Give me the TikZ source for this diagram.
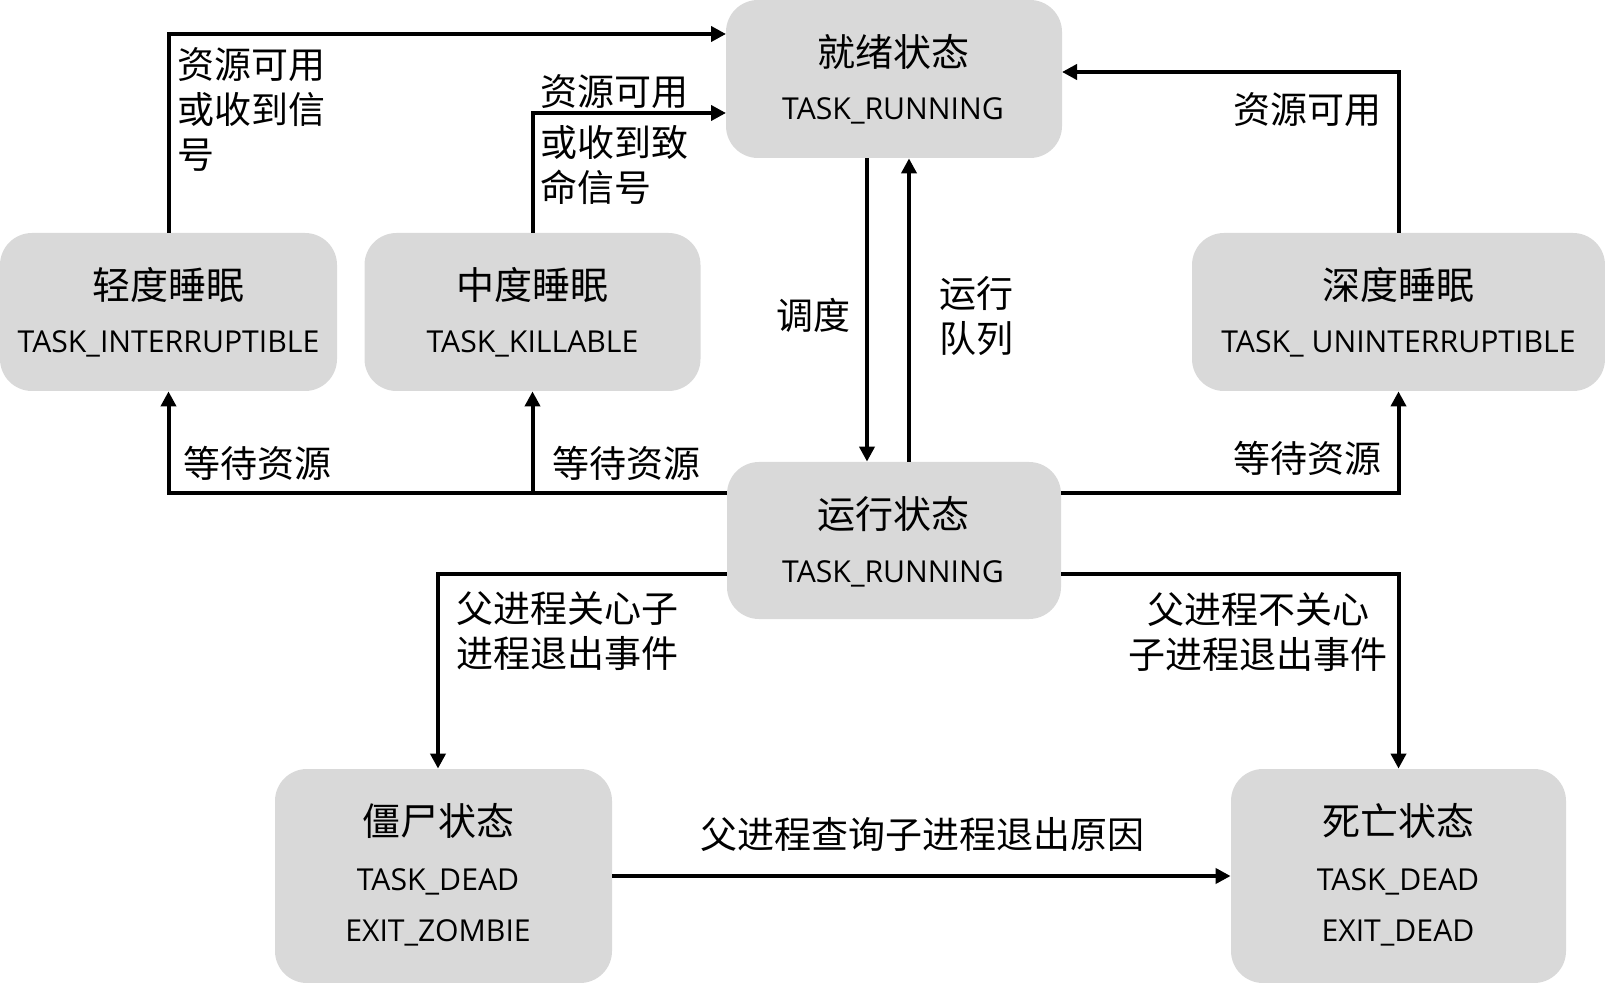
\documentclass[tikz,border=0pt]{standalone}
\usepackage{fontspec}
\setmainfont{Open Sans}
\newfontfamily\zh{Noto Sans CJK SC}
\usetikzlibrary{arrows.meta,calc}
\definecolor{boxgray}{HTML}{D9D9D9}
\tikzset{
  box/.style={fill=boxgray, rounded corners=16pt, inner sep=0pt},
  zhT/.style={font=\zh\fontsize{19}{22}\selectfont, inner sep=0pt},
  en/.style={font=\fontsize{15.1}{18}\selectfont, inner sep=0pt, anchor=base},
  lbl/.style={font=\zh\fontsize{18.5}{22.5}\selectfont, inner sep=0pt},
  arr/.style={line width=2pt, -{Triangle[length=7.5pt,width=7.5pt]}},
}
\begin{document}
\begin{tikzpicture}[x=0.5pt,y=-0.5pt]
\useasboundingbox (0,0) rectangle (1605,983);
% boxes
\node[box, minimum width=168pt, minimum height=79pt] (ready) at (894,79) {};
\node[box, minimum width=168.5pt, minimum height=79pt] (light) at (168.5,312) {};
\node[box, minimum width=168pt, minimum height=79pt] (mid) at (532.5,312) {};
\node[box, minimum width=206.5pt, minimum height=79pt] (deep) at (1398.5,312) {};
\node[box, minimum width=167pt, minimum height=78.5pt] (run) at (894,540.5) {};
\node[box, minimum width=168.5pt, minimum height=107pt] (zombie) at (443.5,876) {};
\node[box, minimum width=167.5pt, minimum height=107pt] (dead) at (1398.5,876) {};
% box texts
\node[zhT] (readyT) at (893,52) {就绪状态};
\node[en] (readyE) at (893,120) {TASK\_RUNNING};
\node[zhT] (lightT) at (168.5,285) {轻度睡眠};
\node[en] (lightE) at (168.5,353) {TASK\_INTERRUPTIBLE};
\node[zhT] (midT) at (532.5,285) {中度睡眠};
\node[en] (midE) at (532.5,353) {TASK\_KILLABLE};
\node[zhT] (deepT) at (1398.5,285) {深度睡眠};
\node[en] (deepE) at (1398.5,353) {TASK\_ UNINTERRUPTIBLE};
\node[zhT] (runT) at (893,514) {运行状态};
\node[en] (runE) at (893,582) {TASK\_RUNNING};
\node[zhT] (zombieT) at (438,821) {僵尸状态};
\node[en] (zombieE1) at (438,890.5) {TASK\_DEAD};
\node[en] (zombieE2) at (438,941) {EXIT\_ZOMBIE};
\node[zhT] (deadT) at (1398,821) {死亡状态};
\node[en] (deadE1) at (1398,890.5) {TASK\_DEAD};
\node[en] (deadE2) at (1398,941) {EXIT\_DEAD};
% helper coordinates
\coordinate (rA) at (726,34);
\coordinate (rB) at (726,113);
\coordinate (rC) at (1062,72);
\coordinate (xd) at (867,0);
\coordinate (xu) at (909,0);
\coordinate (yw) at (0,493);
\coordinate (yz) at (0,574);
\coordinate (xz) at (438,0);
% connectors
\draw[arr] (light.north) |- (rA);
\draw[arr] (mid.north) |- (rB);
\draw[arr] (deep.north) |- (rC);
\draw[arr] (ready.south -| xd) -- (run.north -| xd);
\draw[arr] (run.north -| xu) -- (ready.south -| xu);
\draw[arr] (run.west |- yw) -| (light.south);
\draw[arr] (mid.south |- yw) -- (mid.south);
\draw[arr] (run.east |- yw) -| (deep.south);
\draw[arr] (run.west |- yz) -| (zombie.north -| xz);
\draw[arr] (run.east |- yz) -| (dead.north);
\draw[arr] (zombie.east) -- (dead.west);
% labels
\node[lbl, anchor=west, align=left] (l1) at (177,110) {资源可用\\或收到信\\号};
\node[lbl, anchor=west] (l2a) at (540,92) {资源可用};
\node[lbl, anchor=west, align=left] (l2b) at (540,164.5) {或收到致\\命信号};
\node[lbl] (l3) at (813,315) {调度};
\node[lbl, anchor=west, align=left] (l4) at (939,316) {运行\\队列};
\node[lbl] (l5) at (1307,110) {资源可用};
\node[lbl, anchor=west] (l6) at (183,463) {等待资源};
\node[lbl, anchor=west] (l7) at (552,463) {等待资源};
\node[lbl] (l8) at (1307,458) {等待资源};
\node[lbl, anchor=west, align=left] (l9) at (456,631) {父进程关心子\\进程退出事件};
\node[lbl, align=center] (l10) at (1258,632) {父进程不关心\\子进程退出事件};
\node[lbl] (l11) at (922,834) {父进程查询子进程退出原因};
\end{tikzpicture}
\end{document}
